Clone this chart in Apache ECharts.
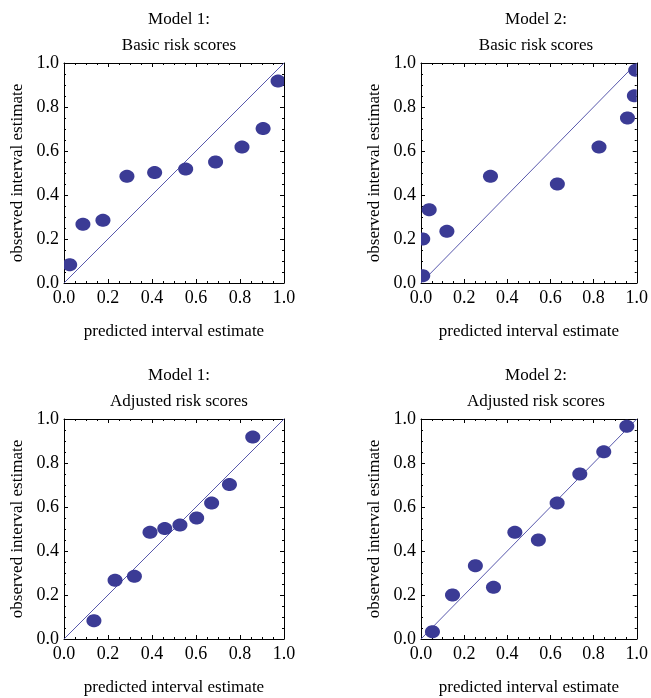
<!DOCTYPE html>
<html>
<head>
<meta charset="utf-8">
<script src="https://cdn.jsdelivr.net/npm/echarts@6/dist/echarts.min.js"></script>
<style>
  html, body { margin: 0; padding: 0; background: #fff; }
  #main { width: 651px; height: 698px; }
</style>
</head>
<body>
<div id="main"></div>
<script>
// observed interval estimates (same for basic / adjusted)
var obsModel1 = [0.083, 0.267, 0.285, 0.485, 0.502, 0.518, 0.55, 0.618, 0.702, 0.918];
var obsModel2 = [0.033, 0.2, 0.333, 0.235, 0.485, 0.45, 0.618, 0.75, 0.851, 0.967];

// predicted interval estimates
var predM1Basic = [0.026, 0.086, 0.177, 0.286, 0.412, 0.553, 0.689, 0.809, 0.905, 0.973];
var predM2Basic = [0.008, 0.008, 0.038, 0.12, 0.322, 0.632, 0.825, 0.957, 0.989, 0.995];
var predM1Adj = [0.136, 0.232, 0.32, 0.391, 0.458, 0.527, 0.603, 0.671, 0.752, 0.858];
var predM2Adj = [0.053, 0.146, 0.252, 0.336, 0.435, 0.544, 0.631, 0.736, 0.847, 0.954];

var panelTitles = ['Model 1:\nBasic risk scores', 'Model 2:\nBasic risk scores',
                   'Model 1:\nAdjusted risk scores', 'Model 2:\nAdjusted risk scores'];
var xName = 'predicted interval estimate';
var yName = 'observed interval estimate';

var font = '"Liberation Serif", "Times New Roman", serif';
var dotColor = '#3b3b95';
var lineColor = '#5858ac';

// box positions in px [left, top]
var boxes = [[64, 63], [421, 63], [64, 419], [421, 419]];
var boxSize = 220;

var panels = [
    { x: predM1Basic, y: obsModel1 },
    { x: predM2Basic, y: obsModel2 },
    { x: predM1Adj, y: obsModel1 },
    { x: predM2Adj, y: obsModel2 }
];

var zip = function (xs, ys) {
    var out = [];
    for (var i = 0; i < xs.length; i++) {
        out.push([xs[i], ys[i]]);
    }
    return out;
};

var fmt = function (v) { return v.toFixed(1); };

// ellipse dot, cut off at the frame like the original
var renderDot = function (params, api) {
    var c = api.coord([api.value(0), api.value(1)]);
    var r = params.coordSys;
    var rx = 7.5, ry = 6.5, pts = [];
    for (var k = 0; k < 48; k++) {
        var a = k / 48 * Math.PI * 2;
        var px = c[0] + rx * Math.cos(a);
        var py = c[1] + ry * Math.sin(a);
        px = Math.min(Math.max(px, r.x), r.x + r.width);
        py = Math.min(Math.max(py, r.y), r.y + r.height);
        pts.push([px, py]);
    }
    return {
        type: 'polygon',
        shape: { points: pts },
        style: { fill: dotColor }
    };
};

var grids = [], xAxes = [], yAxes = [], series = [], titles = [];

var axisBase = function (gi, pos, showLabel, name) {
    return {
        type: 'value',
        gridIndex: gi,
        position: pos,
        min: 0,
        max: 1,
        interval: 0.2,
        name: name || '',
        nameLocation: 'middle',
        nameGap: 40,
        nameTextStyle: { fontFamily: font, fontSize: 17, color: '#000' },
        axisLine: { show: true, onZero: false, lineStyle: { color: '#000', width: 1 } },
        axisTick: { show: true, inside: true, length: 4, lineStyle: { color: '#000' } },
        minorTick: { show: true, splitNumber: 4, length: 2, lineStyle: { color: '#000' } },
        splitLine: { show: false },
        axisLabel: {
            show: showLabel,
            formatter: fmt,
            fontFamily: font,
            fontSize: 18,
            color: '#000',
            margin: 5
        }
    };
};

for (var i = 0; i < 4; i++) {
    var b = boxes[i];
    grids.push({ left: b[0], top: b[1], width: boxSize, height: boxSize });

    titles.push({
        text: panelTitles[i],
        left: b[0] + boxSize / 2,
        top: b[1] - 61,
        textAlign: 'center',
        textStyle: { fontFamily: font, fontSize: 17, fontWeight: 'normal', color: '#000', lineHeight: 26 }
    });

    var xb = axisBase(i, 'bottom', true, xName);
    xb.axisLabel.margin = 6;
    var xt = axisBase(i, 'top', false);
    var yl = axisBase(i, 'left', true, yName);
    yl.nameGap = 38;
    var yr = axisBase(i, 'right', false);
    xAxes.push(xb, xt);
    yAxes.push(yl, yr);

    series.push({
        type: 'line',
        xAxisIndex: i * 2,
        yAxisIndex: i * 2,
        data: [[0, 0], [1, 1]],
        symbol: 'none',
        silent: true,
        lineStyle: { color: lineColor, width: 1 },
        z: 2
    });
    series.push({
        type: 'custom',
        xAxisIndex: i * 2,
        yAxisIndex: i * 2,
        data: zip(panels[i].x, panels[i].y),
        renderItem: renderDot,
        encode: { x: 0, y: 1 },
        z: 3
    });
}

var chart = echarts.init(document.getElementById('main'), null, { renderer: 'canvas' });
chart.setOption({
    animation: false,
    backgroundColor: '#fff',
    title: titles,
    grid: grids,
    xAxis: xAxes,
    yAxis: yAxes,
    series: series
});
</script>
</body>
</html>
